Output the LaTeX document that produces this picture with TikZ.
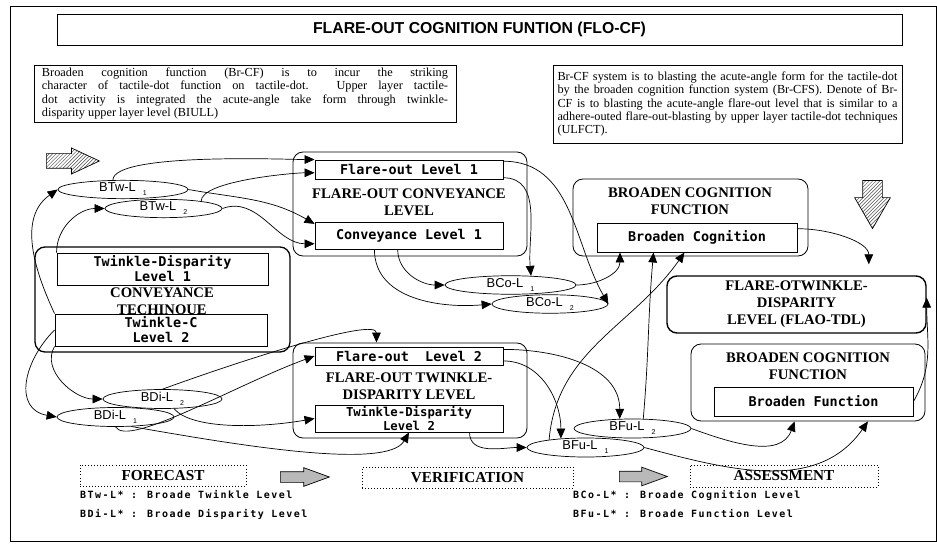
\documentclass[tikz,border=0pt]{standalone}
\usepackage{fontspec}
\setmainfont{Liberation Serif}
\setsansfont{Liberation Sans}
\newfontfamily\boxfont{DejaVu Sans Mono}
\newfontfamily\legendfont[LetterSpace=15]{DejaVu Sans Mono}
\usetikzlibrary{arrows,arrows.meta}
\usetikzlibrary{positioning}
\usetikzlibrary{calc}
\usetikzlibrary{shapes.geometric,shapes.arrows,patterns}

\newcommand{\ellab}[2]{#1\hspace{0.55em}\raisebox{-0.6ex}{\fontsize{6}{6}\selectfont #2}}

\begin{document}
\begin{tikzpicture}[x=0.03cm,y=0.03cm]
			\tikzstyle{every node}=[inner sep=0pt]
			\tikzstyle{lvl}=[draw,fill=white,line width=0.8pt,align=center,font=\boxfont\bfseries\fontsize{11.5}{12.8}\selectfont]
			\tikzstyle{grp}=[draw,rounded corners=0.3cm,line width=0.7pt]
			\tikzstyle{head}=[align=center,font=\bfseries\fontsize{12.5}{14.5}\selectfont]
			\tikzstyle{oval}=[draw,ellipse,line width=0.6pt,font=\sffamily\fontsize{11}{11}\selectfont]
			\tikzstyle{note}=[draw,line width=0.7pt,align=justify,inner ysep=1pt,font=\fontsize{10.5}{11.3}\selectfont]
			\tikzstyle{stage}=[draw,dotted,line width=0.6pt,font=\bfseries\fontsize{13}{14}\selectfont]
			\tikzstyle{leg}=[anchor=west,font=\legendfont\bfseries\fontsize{8.5}{9}\selectfont]
			\tikzstyle{conn}=[-{Triangle[length=3mm,width=2.6mm]},line width=0.6pt]
			\tikzstyle{bigarr}=[single arrow,draw,line width=0.6pt]

			\useasboundingbox (0,0) rectangle (937,-544);
			\draw[line width=0.5pt] (10,-6) rectangle (936,-541);

			% title and notes
			\node (title) [draw,line width=0.8pt,minimum width=25.35cm,minimum height=0.93cm,font=\sffamily\bfseries\fontsize{13.5}{14}\selectfont] at (479.5,-29.5) {FLARE-OUT COGNITION FUNTION (FLO-CF)};
			\node (nl) [note,text width=12.18cm,inner xsep=0.24cm,minimum height=1.71cm] at (245,-93.5) {Broaden cognition function (Br-CF) is to incur the striking\linebreak character of tactile-dot function on tactile-dot. Upper layer tactile-\linebreak dot activity is integrated the acute-angle take form through twinkle-\linebreak disparity upper layer level (BIULL)};
			\node (nr) [note,text width=10.2cm,inner xsep=0.135cm,minimum height=2.34cm] at (727.5,-104) {Br-CF system is to blasting the acute-angle form for the tactile-dot\linebreak by the broaden cognition function system (Br-CFS). Denote of Br-\linebreak CF is to blasting the acute-angle flare-out level that is similar to a\linebreak adhere-outed flare-out-blasting by upper layer tactile-dot techniques\linebreak (ULFCT).};

			% hatched arrows
			\node (inarr) [bigarr,pattern=north east lines,pattern color=black!70,inner sep=0.21cm,minimum height=1.59cm,single arrow head extend=0.17cm,single arrow tip angle=50] at (65,-161) {};
			\node (outarr) [bigarr,pattern=north east lines,pattern color=black!70,shape border rotate=270,inner sep=0.285cm,minimum height=1.44cm,single arrow head extend=0.24cm,single arrow tip angle=60] at (872.5,-196) {};

			% conveyance techinoue
			\node (ct) [grp,line width=1.1pt,minimum width=7.65cm,minimum height=3.15cm] at (162.5,-299.5) {};
			\node (cttxt) [head] at (162,-301.5) {CONVEYANCE\\TECHINOUE};
			\node (td1) [lvl,minimum width=6.33cm,minimum height=0.96cm] at (162.5,-269) {Twinkle-Disparity\\Level 1};
			\node (tc) [lvl,minimum width=6.36cm,minimum height=0.96cm] at (161,-330) {Twinkle-C\\Level 2};

			% flare-out conveyance level
			\node (foc) [grp,minimum width=7.02cm,minimum height=3.12cm] at (410,-204) {};
			\node (fl1) [lvl,minimum width=5.64cm,minimum height=0.57cm] at (409,-169.5) {Flare-out Level 1};
			\node (foctxt) [head] at (409,-202.5) {FLARE-OUT CONVEYANCE\\LEVEL};
			\node (cl1) [lvl,minimum width=5.64cm,minimum height=0.81cm] at (409,-235.5) {Conveyance Level 1};

			% flare-out twinkle-disparity level
			\node (fot) [grp,minimum width=7.02cm,minimum height=2.85cm] at (410,-390.5) {};
			\node (fl2) [lvl,minimum width=5.64cm,minimum height=0.54cm] at (409,-356) {Flare-out~~Level 2};
			\node (fottxt) [head] at (409,-386) {FLARE-OUT TWINKLE-\\DISPARITY LEVEL};
			\node (td2) [lvl,minimum width=5.64cm,minimum height=0.81cm,font=\boxfont\bfseries\fontsize{10.5}{11.5}\selectfont] at (409,-418.5) {Twinkle-Disparity\\Level 2};

			% broaden cognition function
			\node (bcf1) [grp,minimum width=7.05cm,minimum height=2.31cm] at (690.5,-217.5) {};
			\node (bcf1txt) [head] at (690,-201) {BROADEN COGNITION\\FUNCTION};
			\node (bc) [lvl,minimum width=6cm,minimum height=0.87cm] at (697,-237.5) {Broaden Cognition};
			\node (flao) [grp,line width=1.2pt,minimum width=7.77cm,minimum height=1.71cm,head] at (796.5,-304.5) {FLARE-OTWINKLE-\\DISPARITY\\LEVEL (FLAO-TDL)};
			\node (bcf2) [grp,minimum width=7.02cm,minimum height=2.31cm] at (808,-382.5) {};
			\node (bcf2txt) [head] at (808,-366) {BROADEN COGNITION\\FUNCTION};
			\node (bf) [lvl,minimum width=5.97cm,minimum height=0.87cm] at (813.5,-401.5) {Broaden Function};

			% level ovals
			\node (btw1) [oval,minimum width=3.9cm,minimum height=0.45cm] at (123,-189.5) {\ellab{BTw-L}{1}};
			\node (btw2) [oval,minimum width=3.51cm,minimum height=0.51cm] at (163.5,-208.5) {\ellab{BTw-L}{2}};
			\node (bco1) [oval,minimum width=3.93cm,minimum height=0.54cm] at (510.5,-285) {\ellab{BCo-L}{1}};
			\node (bco2) [oval,minimum width=3.48cm,minimum height=0.54cm] at (550,-304) {\ellab{BCo-L}{2}};
			\node (bdi2) [oval,minimum width=3.57cm,minimum height=0.54cm] at (162.5,-399) {\ellab{BDi-L}{2}};
			\node (bdi1) [oval,minimum width=3.51cm,minimum height=0.54cm] at (115.5,-417) {\ellab{BDi-L}{1}};
			\node (bfu2) [oval,minimum width=3.51cm,minimum height=0.57cm] at (632.5,-428.5) {\ellab{BFu-L}{2}};
			\node (bfu1) [oval,minimum width=3.51cm,minimum height=0.57cm] at (585.5,-447.5) {\ellab{BFu-L}{1}};

			% stages and legend
			\node (fc) [stage,minimum width=4.98cm,minimum height=0.63cm] at (163,-475.5) {FORECAST};
			\node (ga1) [bigarr,fill=gray!55,inner sep=0.15cm,minimum height=1.47cm,single arrow head extend=0.12cm,single arrow tip angle=40] at (297.5,-477) {};
			\node (vf) [stage,minimum width=6.33cm,minimum height=0.63cm] at (467.5,-477.5) {VERIFICATION};
			\node (ga2) [bigarr,fill=gray!55,inner sep=0.15cm,minimum height=1.44cm,single arrow head extend=0.12cm,single arrow tip angle=40] at (636,-476.5) {};
			\node (as) [stage,minimum width=5.64cm,minimum height=0.66cm] at (784,-476) {ASSESSMENT};
			\node (lg1) [leg] at (80,-495) {BTw-L* : Broade Twinkle Level};
			\node (lg2) [leg] at (80,-514) {BDi-L* : Broade Disparity Level};
			\node (lg3) [leg] at (573,-495) {BCo-L* : Broade Cognition Level};
			\node (lg4) [leg] at (573,-514) {BFu-L* : Broade Function Level};

			% connectors
			\path[conn]
			(btw1.137) edge[out=90,in=180,looseness=0.35] (fl1.north west)
			(btw2.11) edge[out=90,in=180,looseness=0.45] (fl1.182)
			(btw1.east) edge[out=-10,in=150] (cl1.173)
			(btw2.east) edge[out=20,in=180] (cl1.185)
			(td1.north west) edge[out=90,in=180] (btw2.west)
			(tc.north west) edge[out=115,in=215] (btw1.west)
			(tc.west) edge[out=225,in=170,looseness=1.3] (bdi1.west)
			(tc.south west) edge[out=240,in=180] (bdi2.west);

			\path[conn]
			(bdi2.north) edge[out=20,in=90,in looseness=0.3] (fot.125)
			(bdi1.south) edge[out=-60,in=200,out looseness=0.3] (fl2.west)
			(bdi2.-40) edge[out=-50,in=190,out looseness=0.5] (td2.west)
			(bdi1.-31) edge[out=-10,in=240,in looseness=0.4] (td2.south)
			(td2.-13) edge[out=-90,in=180] (bfu1.west)
			(fl2.4) edge[out=0,in=90] (bfu2.143)
			(fl2.-3) edge[out=0,in=90] (bfu1.160);

			\path[conn]
			(fl1.5) edge[out=0,in=120] (bco2.east)
			(fl1.-5) edge[out=0,in=95] (bco1.24)
			(cl1.231) edge[out=-90,in=180] (bco1.west)
			(cl1.202) edge[out=-90,in=185] (bco2.west)
			(bco1.east) edge[out=0,in=-90] (bc.191)
			(bfu2.42) edge[out=85,in=-95] (bc.199)
			(bfu1.168) edge[out=85,in=235] (bc.230)
			(bc.5) edge[out=0,in=90,shorten >=0.33cm] (flao.22)
			(bf.east) edge[out=60,in=-90] (flao.3)
			(bfu2.east) edge[out=-20,in=250] (bcf2.251)
			(bfu1.east) edge[out=-15,in=235] (bcf2.-33);

		\end{tikzpicture}
\end{document}
